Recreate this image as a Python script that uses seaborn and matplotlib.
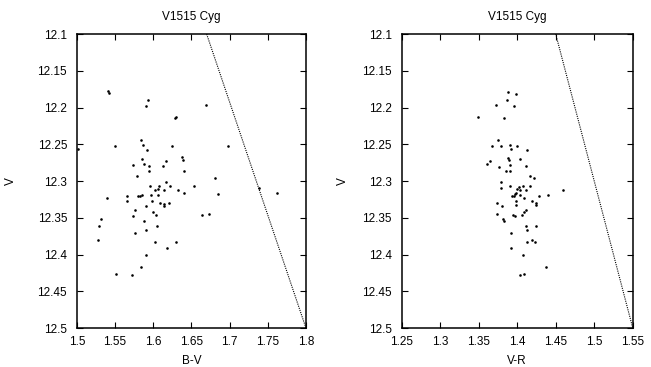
import matplotlib
matplotlib.use("Agg")
import matplotlib.pyplot as plt
import seaborn as sns
import pandas as pd

# left panel: B-V vs V
bv = [1.5406, 1.5423, 1.5938, 1.5908, 1.6296, 1.6287, 1.6697, 1.5497, 1.6248, 1.6981,
      1.5842, 1.5864, 1.5925, 1.5733, 1.5851, 1.5886, 1.5951, 1.5942, 1.6165, 1.6126,
      1.6374, 1.6396, 1.6405, 1.5785, 1.6806, 1.5964, 1.6174, 1.6226, 1.6082, 1.6536,
      1.6025, 1.6064, 1.6139, 1.6326, 1.6405, 1.6850, 1.7382, 1.7622, 1.5807, 1.5829,
      1.5855, 1.5663, 1.5659, 1.5968, 1.6064, 1.5393, 1.5990, 1.6086, 1.6204, 1.6143,
      1.6143, 1.5903, 1.5768, 1.6003, 1.6042, 1.5737, 1.6636, 1.6728, 1.5323, 1.5886,
      1.5292, 1.6055, 1.5903, 1.5768, 1.5275, 1.6025, 1.6305, 1.6178, 1.5908, 1.5846,
      1.5519, 1.5716, 1.5010]
v_bv = [12.1777, 12.1805, 12.1900, 12.1980, 12.2123, 12.2140, 12.1960, 12.2523, 12.2523, 12.2523,
        12.2440, 12.2514, 12.2580, 12.2786, 12.2705, 12.2764, 12.2800, 12.2864, 12.2723, 12.2790,
        12.2677, 12.2710, 12.2864, 12.2932, 12.2964, 12.3064, 12.3014, 12.3073, 12.3073, 12.3073,
        12.3123, 12.3114, 12.3123, 12.3123, 12.3164, 12.3173, 12.3095, 12.3155, 12.3205, 12.3200,
        12.3190, 12.3205, 12.3277, 12.3186, 12.3190, 12.3236, 12.3264, 12.3295, 12.3295, 12.3318,
        12.3332, 12.3332, 12.3395, 12.3423, 12.3464, 12.3477, 12.3464, 12.3445, 12.3518, 12.3545,
        12.3609, 12.3609, 12.3659, 12.3705, 12.3795, 12.3823, 12.3823, 12.3909, 12.4000, 12.4168,
        12.4259, 12.4277, 12.2560]

# right panel: V-R vs V
vr = [1.3878, 1.3983, 1.3861, 1.3957, 1.3722, 1.3487, 1.3822, 1.3748, 1.3674, 1.3791,
      1.3904, 1.3913, 1.4000, 1.4130, 1.3604, 1.3648, 1.3874, 1.3891, 1.4035, 1.3761,
      1.3904, 1.3852, 1.3904, 1.4117, 1.3783, 1.3791, 1.3900, 1.4161, 1.4217, 1.4074,
      1.4017, 1.4161, 1.4109, 1.4030, 1.3996, 1.3978, 1.3974, 1.3957, 1.3935, 1.4035,
      1.4283, 1.4396, 1.4600, 1.3983, 1.4091, 1.4191, 1.4239, 1.4239, 1.3743, 1.3800,
      1.3983, 1.4117, 1.4083, 1.4061, 1.3743, 1.3939, 1.3970, 1.3809, 1.3830, 1.4109,
      1.4130, 1.4239, 1.3922, 1.4187, 1.4226, 1.4130, 1.3913, 1.4070, 1.4370, 1.4035,
      1.4083]
v_vr = [12.1782, 12.1809, 12.1900, 12.1982, 12.1964, 12.2123, 12.2141, 12.2441, 12.2523, 12.2523,
        12.2514, 12.2559, 12.2523, 12.2582, 12.2764, 12.2723, 12.2682, 12.2714, 12.2705, 12.2805,
        12.2786, 12.2864, 12.2864, 12.2791, 12.3014, 12.3095, 12.3064, 12.2932, 12.2964, 12.3073,
        12.3077, 12.3073, 12.3123, 12.3123, 12.3105, 12.3160, 12.3180, 12.3205, 12.3205, 12.3190,
        12.3205, 12.3190, 12.3123, 12.3264, 12.3232, 12.3277, 12.3295, 12.3327, 12.3295, 12.3332,
        12.3327, 12.3395, 12.3423, 12.3464, 12.3445, 12.3464, 12.3477, 12.3514, 12.3545, 12.3609,
        12.3659, 12.3609, 12.3705, 12.3795, 12.3823, 12.3823, 12.3909, 12.4000, 12.4168, 12.4277,
        12.4259]

# dotted reference lines (endpoints)
line_bv = [1.67, 1.80]
line_vr = [1.45, 1.55]
line_v = [12.1, 12.5]

sns.set_style("ticks")
plt.rcParams["font.family"] = ["Liberation Sans", "DejaVu Sans"]
plt.rcParams["font.size"] = 8.5
plt.rcParams["text.color"] = "black"
plt.rcParams["axes.labelcolor"] = "black"
plt.rcParams["xtick.color"] = "black"
plt.rcParams["ytick.color"] = "black"
plt.rcParams["axes.edgecolor"] = "black"

fig = plt.figure(figsize=(6.51, 3.67), dpi=100)
ax1 = fig.add_axes([0.118, 0.106, 0.352, 0.801])
ax2 = fig.add_axes([0.617, 0.106, 0.355, 0.801])

panels = [
    (ax1, bv, v_bv, line_bv, "B-V", (1.5, 1.8), [1.5, 1.55, 1.6, 1.65, 1.7, 1.75, 1.8], -0.262),
    (ax2, vr, v_vr, line_vr, "V-R", (1.25, 1.55), [1.25, 1.3, 1.35, 1.4, 1.45, 1.5, 1.55], -0.228),
]

for ax, xs, ys, lx, xlab, xlim, xticks, ylab_x in panels:
    df = pd.DataFrame({"x": xs, "y": ys})
    sns.scatterplot(data=df, x="x", y="y", ax=ax, color="black", s=3.5,
                    linewidth=0, marker="o", clip_on=False)
    sns.lineplot(x=lx, y=line_v, ax=ax, sort=False, color="black",
                 linestyle=(0, (1, 1)), linewidth=0.8)
    ax.set_xlim(*xlim)
    ax.set_ylim(12.5, 12.1)
    ax.set_xticks(xticks)
    ax.set_xticklabels([f"{t:g}" for t in xticks])
    yt = [12.1, 12.15, 12.2, 12.25, 12.3, 12.35, 12.4, 12.45, 12.5]
    ax.set_yticks(yt)
    ax.set_yticklabels([f"{t:g}" for t in yt])
    ax.tick_params(direction="in", length=4.5, width=0.8, top=True, right=True,
                   labelsize=8.5)
    ax.tick_params(axis="y", pad=7)
    ax.tick_params(axis="x", pad=6)
    for s in ax.spines.values():
        s.set_linewidth(1.1)
        s.set_visible(True)
    ax.set_xlabel(xlab, fontsize=8.5, labelpad=5)
    ax.set_ylabel("V", fontsize=8.5)
    ax.yaxis.set_label_coords(ylab_x, 0.5)
    ax.set_title("V1515 Cyg", fontsize=8.5, pad=10)

plt.savefig("out.png", dpi=100)
plt.close()
